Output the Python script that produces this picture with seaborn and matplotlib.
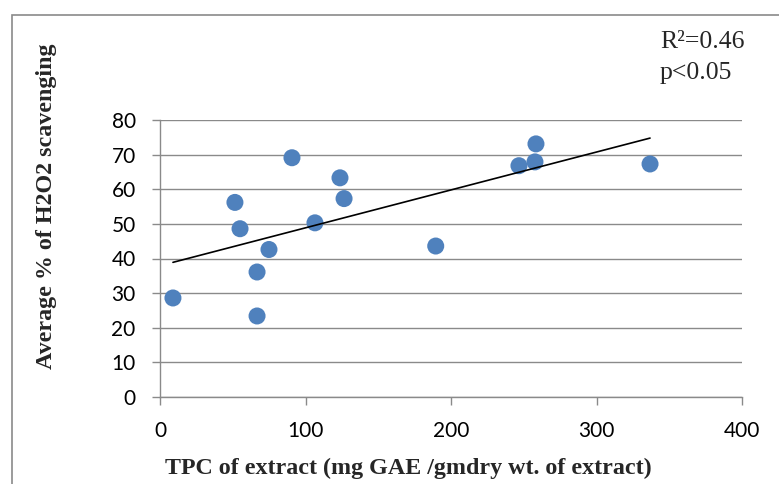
import numpy as np
import pandas as pd
import matplotlib
matplotlib.use("Agg")
import matplotlib.pyplot as plt
from matplotlib.patches import Rectangle
import seaborn as sns

# Total phenolic content vs. H2O2 scavenging activity for each extract
tpc = [8.9, 51.5, 55.0, 66.7, 66.7, 74.9, 90.7, 106.5, 123.7, 126.5,
       189.5, 246.7, 257.7, 258.4, 336.8]
scavenging = [28.6, 56.2, 48.6, 36.1, 23.4, 42.6, 69.1, 50.3, 63.3, 57.3,
              43.6, 66.8, 67.9, 73.1, 67.3]
x_ticks = [0, 100, 200, 300, 400]
y_ticks = [0, 10, 20, 30, 40, 50, 60, 70, 80]
annotation = ["R\u00b2=0.46", "p<0.05"]

df = pd.DataFrame({"tpc": tpc, "scav": scavenging})

sns.set_style("white")
grey = "#8a8a8a"
blue = "#4F81BD"

fig = plt.figure(figsize=(7.79, 4.84), dpi=100)
ax = fig.add_axes([160 / 779, 1 - 397 / 484, (742 - 160) / 779, (397 - 120) / 484])

sns.scatterplot(data=df, x="tpc", y="scav", ax=ax, color=blue, s=150,
                edgecolor="none", zorder=3)
sns.regplot(data=df, x="tpc", y="scav", ax=ax, scatter=False, ci=None,
            truncate=True, line_kws={"color": "black", "linewidth": 1.2, "zorder": 4})

ax.set_xlim(0, 400)
ax.set_ylim(0, 80)
ax.set_xticks(x_ticks)
ax.set_yticks(y_ticks)
ax.yaxis.grid(True, color=grey, linewidth=1.0)
ax.xaxis.grid(False)
ax.set_axisbelow(True)
for side in ("top", "right"):
    ax.spines[side].set_visible(False)
for side in ("left", "bottom"):
    ax.spines[side].set_color(grey)
    ax.spines[side].set_linewidth(1.0)
ax.tick_params(axis="both", which="major", direction="out", length=5.5,
               width=1.0, color=grey, labelsize=15, labelcolor="black", pad=12,
               bottom=True, left=True)
for lbl in ax.get_xticklabels() + ax.get_yticklabels():
    lbl.set_fontfamily("Lato")

ax.set_xlabel("")
ax.set_ylabel("")
serif_bold = dict(family="Liberation Serif", weight="bold", fontsize=17.3)
fig.text(408 / 779, 1 - 468 / 484, "TPC of extract (mg GAE /gmdry wt. of extract)",
         ha="center", va="center", **serif_bold)
fig.text(47 / 779, 1 - 206 / 484, "Average % of H2O2 scavenging",
         ha="center", va="center", rotation=90, **serif_bold)

fig.text(660 / 779, 1 - 42 / 484, annotation[0], ha="left", va="center",
         family="Liberation Serif", fontsize=18.5)
fig.text(660 / 779, 1 - 73 / 484, annotation[1], ha="left", va="center",
         family="Liberation Serif", fontsize=18.5)

# Chart-area frame
fig.patches.append(Rectangle((12 / 779, -0.1), 1.2, 1.1 - 15 / 484,
                             transform=fig.transFigure, fill=False,
                             edgecolor=grey, linewidth=1.2))

fig.savefig("out.png", dpi=100)
